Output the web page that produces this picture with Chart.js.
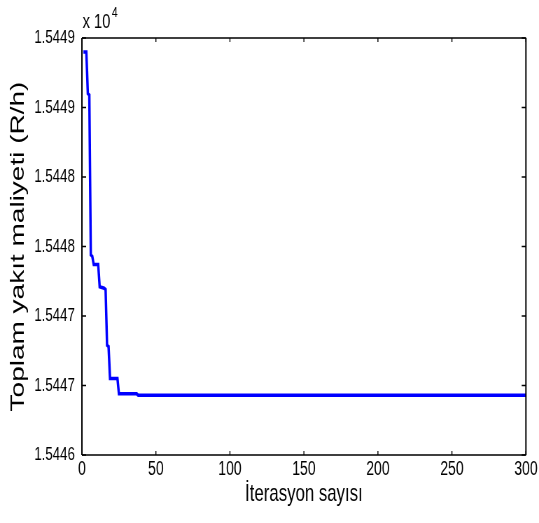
<!DOCTYPE html>
<html>
<head>
<meta charset="utf-8">
<script src="https://cdn.jsdelivr.net/npm/chart.js@4.4.0/dist/chart.umd.min.js"></script>
<style>
    html, body { margin: 0; padding: 0; background: #fff; overflow: hidden; }
    /* the figure is squeezed sideways, like the original export */
    #wrap { width: 770px; height: 523px; transform: scaleX(0.7); transform-origin: 0 0; }
</style>
</head>
<body>
<div id="wrap"><canvas id="costChart" width="770" height="523"></canvas></div>
<script>
// iteration where the best cost changes, and the cost there
const iterations = [1, 3, 4, 5, 6, 7, 8, 11, 12, 15, 16, 17, 18, 19, 24, 25, 37, 38, 300];
const totalCost = [15448.90, 15448.90, 15448.60, 15448.59, 15447.44, 15447.43, 15447.37, 15447.37,
    15447.21, 15447.20, 15447.19, 15446.79, 15446.78, 15446.55, 15446.55, 15446.44, 15446.44,
    15446.43, 15446.43];

const yTickLabels = ['1.5446', '1.5447', '1.5447', '1.5448', '1.5448', '1.5449', '1.5449'];
const yExponent = '4';
const xAxisTitle = 'İterasyon sayısı';
const yAxisTitle = 'Toplam yakıt maliyeti (R/h)';

const SX = 0.7;
const FONT = "'Liberation Sans', Arial, sans-serif";

// box, inward tick marks and the x 10^4 note
const matlabFrame = {
    id: 'matlabFrame',
    afterDraw(chart) {
        const ctx = chart.ctx;
        const a = chart.chartArea;
        const xs = chart.scales.x, ys = chart.scales.y;
        ctx.save();
        ctx.strokeStyle = '#000';

        ctx.lineWidth = 1.4;
        ctx.beginPath();
        ctx.moveTo(a.left, a.top); ctx.lineTo(a.right, a.top);
        ctx.moveTo(a.left, a.bottom); ctx.lineTo(a.right, a.bottom);
        xs.ticks.forEach(t => {
            const px = xs.getPixelForValue(t.value);
            ctx.moveTo(px, a.bottom); ctx.lineTo(px, a.bottom - 4);
            ctx.moveTo(px, a.top); ctx.lineTo(px, a.top + 4);
        });
        ctx.stroke();

        ctx.lineWidth = 1.4 / SX;
        ctx.beginPath();
        ctx.moveTo(a.left, a.top); ctx.lineTo(a.left, a.bottom);
        ctx.moveTo(a.right, a.top); ctx.lineTo(a.right, a.bottom);
        ctx.stroke();

        ctx.lineWidth = 1.4;
        ctx.beginPath();
        ys.ticks.forEach(t => {
            const py = ys.getPixelForValue(t.value);
            ctx.moveTo(a.left, py); ctx.lineTo(a.left + 6, py);
            ctx.moveTo(a.right, py); ctx.lineTo(a.right - 6, py);
        });
        ctx.stroke();

        ctx.fillStyle = '#000';
        ctx.textBaseline = 'alphabetic';
        ctx.textAlign = 'left';
        ctx.font = '21px ' + FONT;
        const base = 'x 10';
        ctx.fillText(base, a.left + 1, 28);
        const w = ctx.measureText(base).width;
        ctx.font = '15px ' + FONT;
        ctx.fillText(yExponent, a.left + 1 + w + 2, 17);
        ctx.restore();
    }
};

new Chart(document.getElementById('costChart'), {
    type: 'line',
    data: {
        datasets: [{
            data: iterations.map((it, i) => ({ x: it, y: totalCost[i] })),
            borderColor: '#0000ff',
            borderWidth: 3.5,
            pointRadius: 0,
            tension: 0,
            fill: false
        }]
    },
    options: {
        responsive: false,
        devicePixelRatio: 1,
        animation: false,
        layout: { padding: { top: 38, right: 17, left: 0, bottom: 0 } },
        plugins: {
            legend: { display: false },
            tooltip: { enabled: false }
        },
        scales: {
            x: {
                type: 'linear',
                min: 0,
                max: 300,
                grid: { display: false, drawTicks: false },
                border: { display: false },
                ticks: {
                    stepSize: 50,
                    padding: 2,
                    maxRotation: 0,
                    color: '#000',
                    font: { family: FONT, size: 20 }
                },
                title: {
                    display: true,
                    text: xAxisTitle,
                    color: '#000',
                    font: { family: FONT, size: 24 },
                    padding: { top: 0, bottom: 14 }
                },
                afterFit: (scale) => { scale.height = 68; }
            },
            y: {
                min: 15446,
                max: 15449,
                grid: { display: false, drawTicks: false },
                border: { display: false },
                ticks: {
                    stepSize: 0.5,
                    padding: 10,
                    color: '#000',
                    font: { family: FONT, size: 19 },
                    callback: (v, i) => yTickLabels[i]
                },
                title: {
                    display: true,
                    text: yAxisTitle,
                    color: '#000',
                    font: { family: FONT, size: 28 },
                    padding: { top: 9, bottom: 0 }
                },
                afterFit: (scale) => { scale.width = 117; }
            }
        }
    },
    plugins: [matlabFrame]
});
</script>
</body>
</html>
